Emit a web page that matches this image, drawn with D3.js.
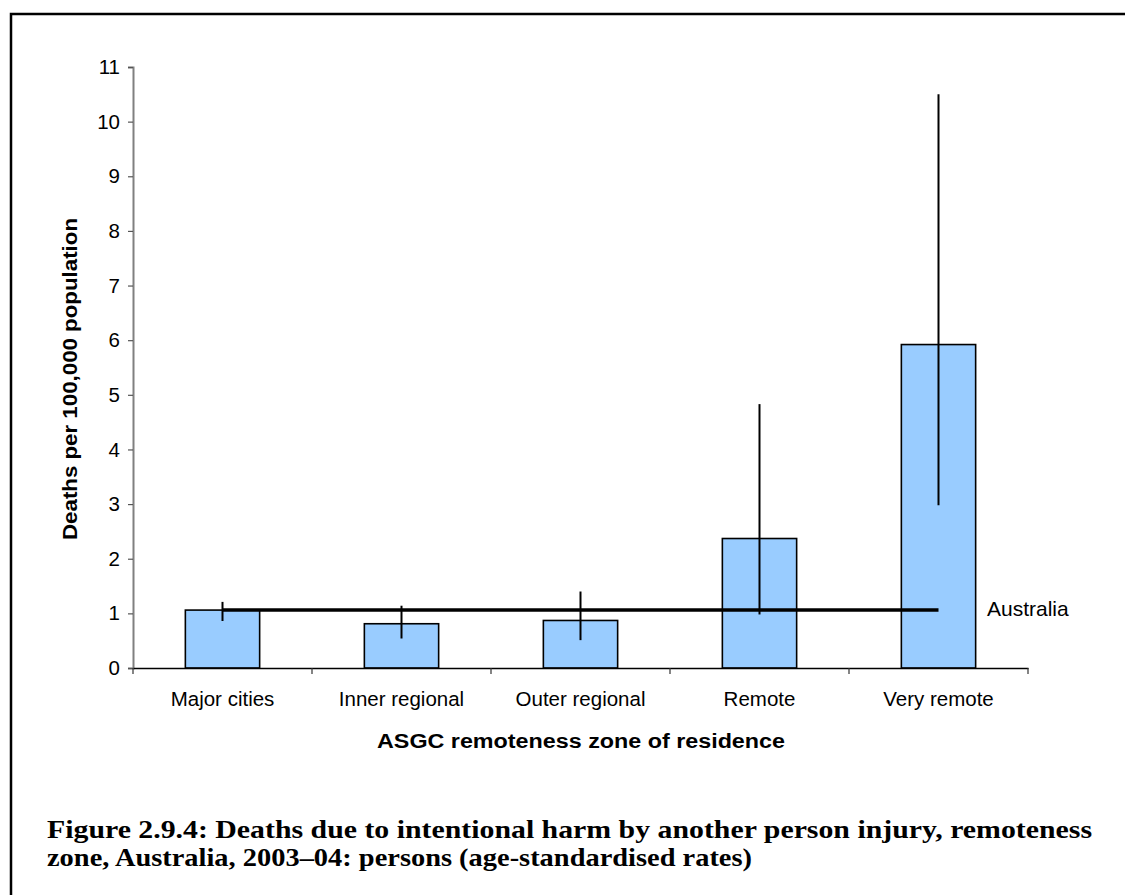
<!DOCTYPE html>
<html>
<head>
<meta charset="utf-8">
<script src="https://cdn.jsdelivr.net/npm/d3@7/dist/d3.min.js"></script>
<style>
  html, body { margin: 0; padding: 0; background: #fff; }
  svg { display: block; }
</style>
</head>
<body>
<svg id="chart" width="1125" height="895"></svg>
<script>
// ---- Data ----
const categories = ["Major cities", "Inner regional", "Outer regional", "Remote", "Very remote"];
const rates = [1.06, 0.81, 0.87, 2.37, 5.92];
const ciLower = [0.86, 0.54, 0.51, 0.98, 2.98];
const ciUpper = [1.21, 1.14, 1.40, 4.83, 10.5];
const australiaRate = 1.06;
const yTicks = [0, 1, 2, 3, 4, 5, 6, 7, 8, 9, 10, 11];
const yLabel = "Deaths per 100,000 population";
const xLabel = "ASGC remoteness zone of residence";
const refLabel = "Australia";
const captionLines = [
  "Figure 2.9.4: Deaths due to intentional harm by another person injury, remoteness",
  "zone, Australia, 2003\u201304: persons (age-standardised rates)"
];

// ---- Layout ----
const svg = d3.select("#chart");
const plotLeft = 133, plotRight = 1028, plotTop = 67, plotBottom = 668;
const sans = "Liberation Sans, Arial, sans-serif";

// Frame
svg.append("rect")
  .attr("x", 11).attr("y", 14)
  .attr("width", 1200).attr("height", 1000)
  .attr("fill", "none").attr("stroke", "#000").attr("stroke-width", 2.5);

const x = d3.scaleBand().domain(categories).range([plotLeft, plotRight])
  .paddingInner(0.585).paddingOuter(0.2925);
const y = d3.scaleLinear().domain([0, 11]).range([plotBottom, plotTop]);

// Bars
svg.append("g").selectAll("rect").data(categories).join("rect")
  .attr("x", d => x(d))
  .attr("y", (d, i) => y(rates[i]))
  .attr("width", x.bandwidth())
  .attr("height", (d, i) => y(0) - y(rates[i]))
  .attr("fill", "#99ccff")
  .attr("stroke", "#000").attr("stroke-width", 1.6);

// Australia reference line (from first to last bar centre)
const cx = d => x(d) + x.bandwidth() / 2;
svg.append("line")
  .attr("x1", cx(categories[0]))
  .attr("x2", cx(categories[categories.length - 1]))
  .attr("y1", y(australiaRate)).attr("y2", y(australiaRate))
  .attr("stroke", "#000").attr("stroke-width", 3.5);

// Error bars
svg.append("g").selectAll("line").data(categories).join("line")
  .attr("x1", d => cx(d)).attr("x2", d => cx(d))
  .attr("y1", (d, i) => y(ciUpper[i]))
  .attr("y2", (d, i) => y(ciLower[i]))
  .attr("stroke", "#000").attr("stroke-width", 2);

// Y axis
const yAxis = svg.append("g")
  .attr("transform", `translate(${plotLeft},0)`)
  .call(d3.axisLeft(y).tickValues(yTicks).tickSize(5).tickPadding(8).tickFormat(d3.format("d")));
yAxis.select(".domain").attr("stroke", "#808080").attr("stroke-width", 2);
yAxis.selectAll(".tick line").attr("stroke", "#555").attr("stroke-width", 1.2);
yAxis.selectAll(".tick text")
  .attr("font-family", sans)
  .attr("font-size", 20.5).attr("fill", "#000");

// X axis
const xAxis = svg.append("g")
  .attr("transform", `translate(0,${plotBottom})`)
  .call(d3.axisBottom(x).tickSize(0).tickPadding(23));
xAxis.select(".domain").attr("stroke", "#000").attr("stroke-width", 1.5);
xAxis.selectAll(".tick text")
  .attr("font-family", sans)
  .attr("font-size", 20.5).attr("fill", "#000");
// category separator ticks
const sepPositions = d3.range(categories.length + 1).map(i => plotLeft + i * x.step());
xAxis.selectAll("line.sep").data(sepPositions).join("line")
  .attr("class", "sep")
  .attr("x1", d => d).attr("x2", d => d)
  .attr("y1", 0).attr("y2", 6)
  .attr("stroke", "#333").attr("stroke-width", 1.2);

// Australia label
svg.append("text")
  .attr("x", 987).attr("y", y(australiaRate) + 6)
  .attr("font-family", sans)
  .attr("font-size", 21).attr("fill", "#000")
  .text(refLabel);

// Axis titles
svg.append("text")
  .attr("transform", `translate(77,379) rotate(-90)`)
  .attr("text-anchor", "middle")
  .attr("font-family", sans)
  .attr("font-size", 20).attr("font-weight", "bold").attr("fill", "#000")
  .attr("textLength", 322).attr("lengthAdjust", "spacingAndGlyphs")
  .text(yLabel);

svg.append("text")
  .attr("x", 581).attr("y", 748)
  .attr("text-anchor", "middle")
  .attr("font-family", sans)
  .attr("font-size", 19.5).attr("font-weight", "bold").attr("fill", "#000")
  .attr("textLength", 408).attr("lengthAdjust", "spacingAndGlyphs")
  .text(xLabel);

// Caption
const capWidths = [1045, 705];
svg.append("g").selectAll("text").data(captionLines).join("text")
  .attr("x", 47).attr("y", (d, i) => 838 + i * 28)
  .attr("font-family", "Liberation Serif, 'Times New Roman', serif")
  .attr("font-size", 25).attr("font-weight", "bold").attr("fill", "#000")
  .attr("textLength", (d, i) => capWidths[i])
  .attr("lengthAdjust", "spacingAndGlyphs")
  .text(d => d);
</script>
</body>
</html>
